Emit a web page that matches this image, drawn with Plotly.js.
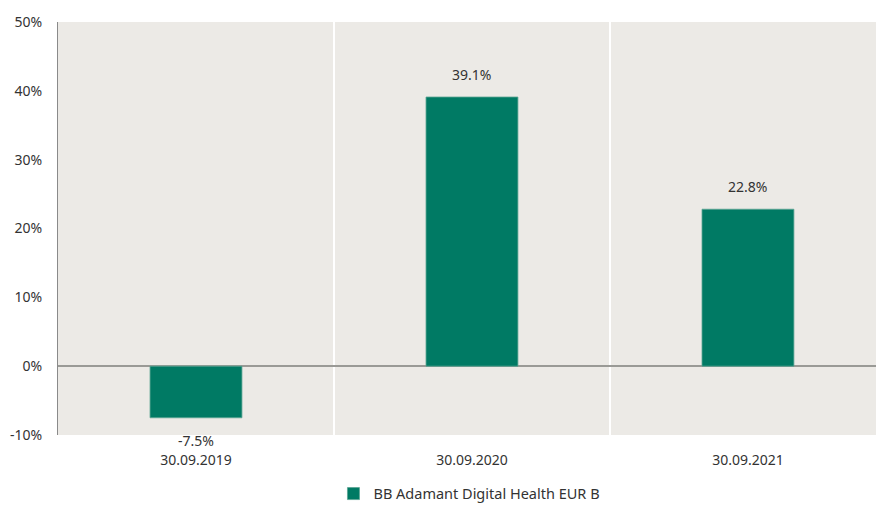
<!DOCTYPE html>
<html>
<head>
<meta charset="utf-8">
<script src="https://cdn.plot.ly/plotly-3.0.1.min.js"></script>
<style>html,body{margin:0;padding:0;background:#fff;}#chart{width:876px;height:505px;}</style>
</head>
<body>
<div id="chart"></div>
<script>
const categories = ["30.09.2019", "30.09.2020", "30.09.2021"];
const values = [-7.5, 39.1, 22.8];
const seriesName = "BB Adamant Digital Health EUR B";
const yTickValues = [-10, 0, 10, 20, 30, 40, 50];
const yTickLabels = ["-10%", "0%", "10%", "20%", "30%", "40%", "50%"];

const fontFam = "Noto Sans, Open Sans, sans-serif";
const annotations = categories.map((c, i) => ({
  x: c, y: values[i], xref: "x", yref: "y",
  text: values[i].toFixed(1) + "%",
  showarrow: false, yanchor: "middle",
  yshift: values[i] >= 0 ? 23 : -23,
  font: {family: fontFam, size: 14, color: "#333"}
}));

const trace = {
  type: "bar", x: categories, y: values, name: seriesName,
  width: 0.333,
  marker: {color: "#007A64", line: {color: "#5aa593", width: 0.8}},
  showlegend: true, hoverinfo: "none"
};

const layout = {
  width: 876, height: 505,
  margin: {l: 58, r: 0, t: 22, b: 70, autoexpand: false},
  paper_bgcolor: "#ffffff", plot_bgcolor: "#ECEAE6",
  font: {family: fontFam, size: 14, color: "#333"},
  bargap: 0.667,
  xaxis: {
    type: "category", range: [-0.5, 2.464], automargin: false,
    tickson: "boundaries", showgrid: true, gridcolor: "#ffffff", gridwidth: 1.5,
    ticks: "", ticklabelstandoff: 15, showline: false, zeroline: false,
    tickfont: {family: fontFam, size: 14, color: "#333"}
  },
  yaxis: {
    range: [-10, 50], tickvals: yTickValues, ticktext: yTickLabels, automargin: false,
    showgrid: false, zeroline: true, zerolinecolor: "#9a9a96", zerolinewidth: 2,
    showline: true, linecolor: "#8a8a8a", linewidth: 1,
    ticks: "", ticklabelstandoff: 12,
    tickfont: {family: fontFam, size: 14, color: "#333"}
  },
  legend: {
    orientation: "h", x: 0.503, xanchor: "center", y: -0.142, yanchor: "middle",
    itemwidth: 30,
    font: {family: fontFam, size: 14.5, color: "#333"}
  },
  annotations: annotations
};

Plotly.newPlot("chart", [trace], layout, {staticPlot: true, displayModeBar: false});
</script>
</body>
</html>
